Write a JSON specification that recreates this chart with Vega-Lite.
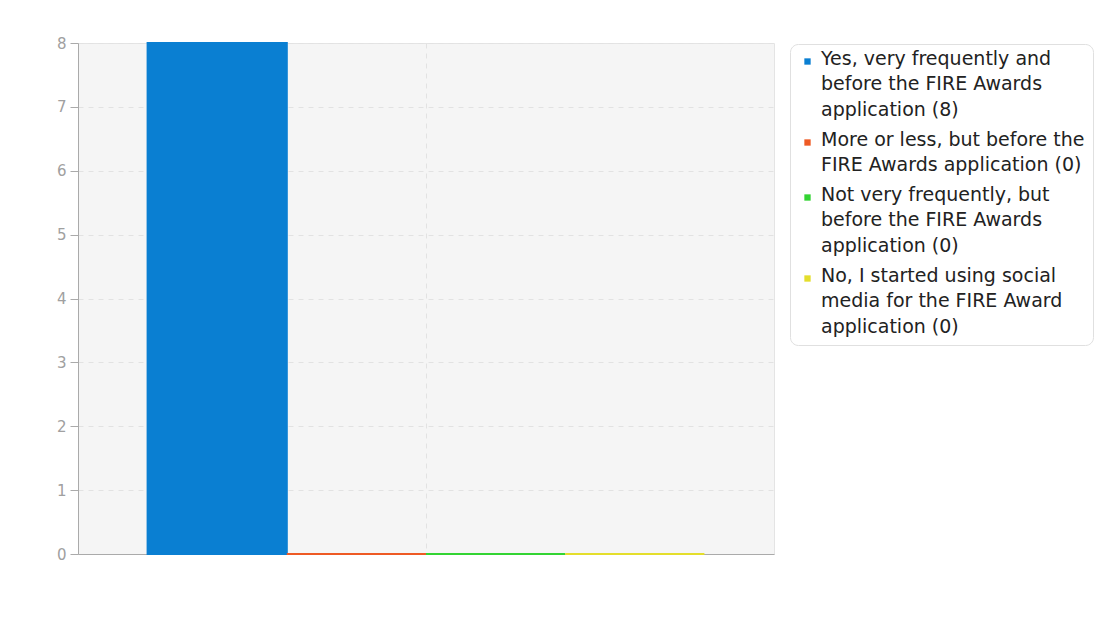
{
  "$schema": "https://vega.github.io/schema/vega-lite/v6.json",
  "autosize": "none",
  "width": 696,
  "height": 511,
  "padding": {"left": 78, "top": 43, "right": 342, "bottom": 83},
  "background": "white",
  "config": {
    "font": "DejaVu Sans",
    "view": {"fill": "#f5f5f5", "stroke": "#e4e4e4", "strokeWidth": 1}
  },
  "data": {
    "values": [
      {"grp": "g", "series": "Yes, very frequently and\nbefore the FIRE Awards\napplication (8)", "count": 8},
      {"grp": "g", "series": "More or less, but before the\nFIRE Awards application (0)", "count": 0},
      {"grp": "g", "series": "Not very frequently, but\nbefore the FIRE Awards\napplication (0)", "count": 0},
      {"grp": "g", "series": "No, I started using social\nmedia for the FIRE Award\napplication (0)", "count": 0}
    ]
  },
  "mark": {"type": "bar", "strokeWidth": 2, "zindex": 2},
  "encoding": {
    "x": {
      "field": "grp",
      "type": "nominal",
      "scale": {"paddingInner": 0, "paddingOuter": 0.125},
      "axis": {
        "title": null,
        "labels": false,
        "ticks": false,
        "domain": true,
        "domainColor": "#aaaaaa",
        "grid": true,
        "gridColor": "#e2e2e2",
        "gridDash": [5, 5],
        "bandPosition": 0.5,
        "zindex": 0
      }
    },
    "xOffset": {
      "field": "series",
      "type": "nominal",
      "sort": null,
      "scale": {"paddingInner": 0, "paddingOuter": 0}
    },
    "y": {
      "field": "count",
      "type": "quantitative",
      "scale": {"domain": [0, 8], "nice": false},
      "axis": {
        "title": null,
        "values": [0, 1, 2, 3, 4, 5, 6, 7, 8],
        "format": "d",
        "domainColor": "#aaaaaa",
        "tickColor": "#aaaaaa",
        "tickSize": 8,
        "labelColor": "#a0a0a0",
        "labelFontSize": 15,
        "labelPadding": 4,
        "gridColor": "#e2e2e2",
        "gridDash": [5, 5],
        "zindex": 0
      }
    },
    "color": {
      "field": "series",
      "type": "nominal",
      "sort": null,
      "scale": {"range": ["#0a7fd2", "#ee5a24", "#33d433", "#e4de2c"]},
      "legend": {
        "title": null,
        "orient": "none",
        "legendX": 712,
        "legendY": 1,
        "symbolType": "square",
        "symbolSize": 40,
        "symbolStrokeWidth": 0,
        "labelFontSize": 19,
        "labelColor": "#222222",
        "labelLimit": 320,
        "labelBaseline": "top",
        "labelOffset": 4,
        "labelExpr": "split(datum.label, '\\n')",
        "rowPadding": 10,
        "padding": 8,
        "fillColor": "white",
        "strokeColor": "#e0e0e0",
        "cornerRadius": 8,
        "encode": {"labels": {"update": {"dy": {"value": -12}, "lineHeight": {"value": 25.5}}}}
      }
    },
    "stroke": {
      "field": "series",
      "type": "nominal",
      "sort": null,
      "scale": {"range": ["#0a7fd2", "#ee5a24", "#33d433", "#e4de2c"]},
      "legend": null
    }
  }
}
